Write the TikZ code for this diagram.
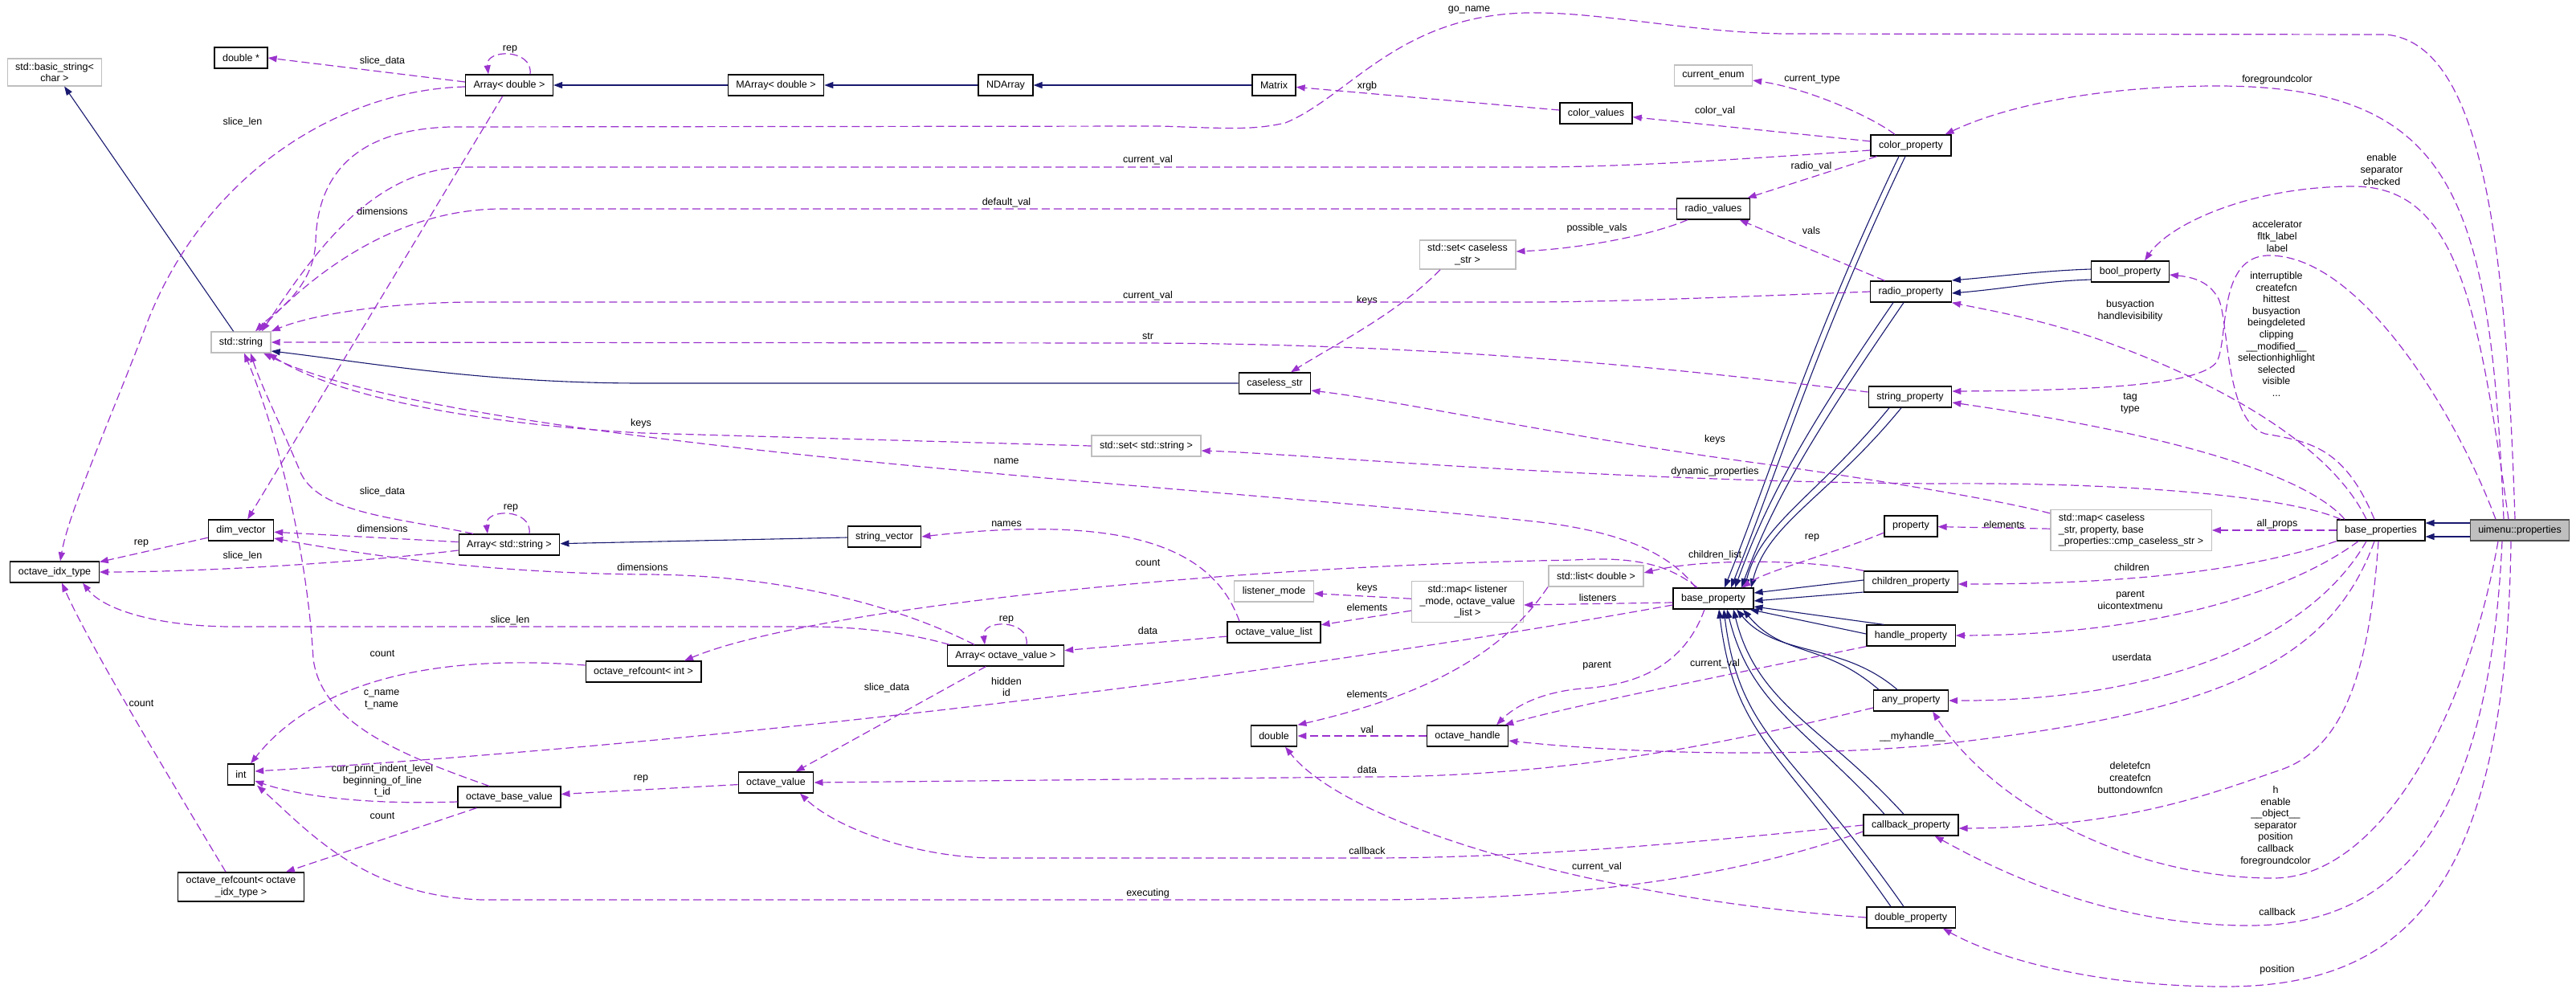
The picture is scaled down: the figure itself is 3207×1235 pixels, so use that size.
\documentclass[tikz,border=0pt]{standalone}
\usepackage{fontspec}
\setmainfont{Liberation Sans}
\usepackage{tikz}
\usetikzlibrary{arrows.meta}
\definecolor{edgeviolet}{HTML}{9A32CD}
\definecolor{inhnavy}{HTML}{191970}
\definecolor{extgray}{HTML}{BFBFBF}

\begin{document}
\begin{tikzpicture}[x=1pt, y=-1pt, font=\fontsize{12.5}{14.6}\selectfont,
  cls/.style={draw=black, line width=1.3pt, fill=white, minimum height=26pt, inner xsep=10pt, inner ysep=5pt},
  extcls/.style={cls, draw=extgray},
  curcls/.style={cls, draw=black!70, fill=extgray},
  mem/.style={draw=edgeviolet, line width=1.2pt, dash pattern=on 10pt off 5pt, -{Triangle[length=11pt,width=8pt]}},
  inh/.style={draw=inhnavy, line width=1.1pt, -{Triangle[length=11pt,width=8pt]}},
  lbl/.style={align=center, inner sep=0pt}]
  \useasboundingbox (0,0) rectangle (3207,1235);

  \node[extcls, align=center] (bstr) at (68,90) {std::basic\_string<\\char >};
  \node[cls] (dptr) at (300,72) {double *};
  \node[cls] (arrD) at (634,106) {Array< double >};
  \node[cls] (mad) at (966,106) {MArray< double >};
  \node[cls] (nda) at (1252,106) {NDArray};
  \node[cls] (mtx) at (1586,106) {Matrix};
  \node[extcls] (stds) at (300,426) {std::string};
  \node[extcls] (cenm) at (2133,94) {current\_enum};
  \node[cls] (cvals) at (1987,141) {color\_values};
  \node[cls] (colp) at (2379,181) {color\_property};
  \node[cls] (radv) at (2133,260) {radio\_values};
  \node[extcls, align=center] (setC) at (1827,317) {std::set< caseless\\\_str >};
  \node[cls] (radp) at (2379,363) {radio\_property};
  \node[cls] (boolp) at (2652,338) {bool\_property};
  \node[cls] (csl) at (1587,477) {caseless\_str};
  \node[cls] (strp) at (2378,494) {string\_property};
  \node[extcls] (setS) at (1427,555) {std::set< std::string >};
  \node[cls] (dimv) at (300,660) {dim\_vector};
  \node[cls] (arrS) at (634,678) {Array< std::string >};
  \node[cls] (oit) at (68,712) {octave\_idx\_type};
  \node[cls] (strv) at (1101,668) {string\_vector};
  \node[cls] (prop) at (2379,655) {property};
  \node[extcls, align=left] (mapC) at (2653,660) {std::map< caseless\\\_str, property, base\\\_properties::cmp\_caseless\_str >};
  \node[cls] (bprops) at (2964,660) {base\_properties};
  \node[curcls] (uim) at (3137,660) {uimenu::properties};
  \node[cls] (chdp) at (2379,724) {children\_property};
  \node[extcls] (listD) at (1987,717) {std::list< double >};
  \node[extcls] (lsn) at (1586,736) {listener\_mode};
  \node[extcls, align=center] (mapL) at (1827,749) {std::map< listener\\\_mode, octave\_value\\\_list >};
  \node[cls] (basep) at (2133,745) {base\_property};
  \node[cls] (hndp) at (2379,791) {handle\_property};
  \node[cls] (ovl) at (1586,787) {octave\_value\_list};
  \node[cls] (arrOV) at (1252,816) {Array< octave\_value >};
  \node[cls] (orcI) at (801,836) {octave\_refcount< int >};
  \node[cls] (anyp) at (2379,872) {any\_property};
  \node[cls] (dbl) at (1586,916) {double};
  \node[cls] (ohd) at (1827,916) {octave\_handle};
  \node[cls] (intn) at (300,964) {int};
  \node[cls] (ov) at (966,974) {octave\_value};
  \node[cls] (obv) at (634,992) {octave\_base\_value};
  \node[cls] (cbp) at (2379,1027) {callback\_property};
  \node[cls, align=center] (orcX) at (300,1104) {octave\_refcount< octave\\\_idx\_type >};
  \node[cls] (dblp) at (2379,1142) {double\_property};

  \node[lbl] (tA1) at (476,76) {slice\_data};
  \node[lbl] (tA2) at (635,61) {rep};
  \node[lbl] (tA3) at (302,152) {slice\_len};
  \node[lbl] (tA4) at (476,263) {dimensions};
  \node[lbl] (tGo) at (1829,12) {go\_name};
  \node[lbl] (tCv1) at (1429,199) {current\_val};
  \node[lbl] (tDv) at (1253,252) {default\_val};
  \node[lbl] (tCv2) at (1429,368) {current\_val};
  \node[lbl] (tStr) at (1429,419) {str};
  \node[lbl] (tCt) at (2256,99) {current\_type};
  \node[lbl] (tXrgb) at (1702,107) {xrgb};
  \node[lbl] (tCol) at (2135,138) {color\_val};
  \node[lbl] (tRv) at (2255,207) {radio\_val};
  \node[lbl] (tPv) at (1988,284) {possible\_vals};
  \node[lbl] (tVals) at (2255,287) {vals};
  \node[lbl] (tK1) at (1702,374) {keys};
  \node[lbl] (tFg) at (2835,99) {foregroundcolor};
  \node[lbl] (tEsc) at (2965,211) {enable\\separator\\checked};
  \node[lbl] (tAcc) at (2835,294) {accelerator\\fltk\_label\\label};
  \node[lbl] (tInt) at (2834,416) {interruptible\\createfcn\\hittest\\busyaction\\beingdeleted\\clipping\\\_\_modified\_\_\\selectionhighlight\\selected\\visible\\...};
  \node[lbl] (tBusy) at (2652,387) {busyaction\\handlevisibility};
  \node[lbl] (tK2) at (798,527) {keys};
  \node[lbl] (tSd2) at (476,612) {slice\_data};
  \node[lbl] (tRep2) at (636,632) {rep};
  \node[lbl] (tDim2) at (476,658) {dimensions};
  \node[lbl] (tRep3) at (176,676) {rep};
  \node[lbl] (tSl2) at (302,692) {slice\_len};
  \node[lbl] (tDim3) at (800,706) {dimensions};
  \node[lbl] (tSl3) at (635,772) {slice\_len};
  \node[lbl] (tCnt1) at (476,814) {count};
  \node[lbl] (tK3) at (2135,547) {keys};
  \node[lbl] (tDyn) at (2135,587) {dynamic\_properties};
  \node[lbl] (tName) at (1253,574) {name};
  \node[lbl] (tNames) at (1253,652) {names};
  \node[lbl] (tCnt2) at (1429,701) {count};
  \node[lbl] (tRep4) at (1253,771) {rep};
  \node[lbl] (tData1) at (1429,785) {data};
  \node[lbl] (tRep5) at (2256,669) {rep};
  \node[lbl] (tChl) at (2135,691) {children\_list};
  \node[lbl] (tK4) at (1702,732) {keys};
  \node[lbl] (tEl1) at (1702,756) {elements};
  \node[lbl] (tLis) at (1989,744) {listeners};
  \node[lbl] (tPar) at (1988,829) {parent};
  \node[lbl] (tCv3) at (2135,826) {current\_val};
  \node[lbl] (tTag) at (2652,502) {tag\\type};
  \node[lbl] (tEl2) at (2495,653) {elements};
  \node[lbl] (tAll) at (2835,652) {all\_props};
  \node[lbl] (tChd) at (2654,706) {children};
  \node[lbl] (tPuc) at (2652,747) {parent\\uicontextmenu};
  \node[lbl] (tUd) at (2654,818) {userdata};
  \node[lbl] (tCnt3) at (176,876) {count};
  \node[lbl] (tCn) at (475,871) {c\_name\\t\_name};
  \node[lbl] (tCpi) at (476,972) {curr\_print\_indent\_level\\beginning\_of\_line\\t\_id};
  \node[lbl] (tCnt4) at (476,1016) {count};
  \node[lbl] (tRep6) at (798,969) {rep};
  \node[lbl] (tSd3) at (1104,856) {slice\_data};
  \node[lbl] (tHid) at (1253,855) {hidden\\id};
  \node[lbl] (tExe) at (1429,1112) {executing};
  \node[lbl] (tEl3) at (1702,864) {elements};
  \node[lbl] (tVal) at (1702,908) {val};
  \node[lbl] (tData2) at (1702,958) {data};
  \node[lbl] (tMyh) at (2381,917) {\_\_myhandle\_\_};
  \node[lbl] (tCb1) at (1702,1059) {callback};
  \node[lbl] (tCv4) at (1988,1079) {current\_val};
  \node[lbl] (tDel) at (2652,968) {deletefcn\\createfcn\\buttondownfcn};
  \node[lbl] (tH) at (2833,1028) {h\\enable\\\_\_object\_\_\\separator\\position\\callback\\foregroundcolor};
  \node[lbl] (tCb2) at (2835,1135) {callback};
  \node[lbl] (tPos) at (2835,1207) {position};

  \draw[inh] (mad) -- (arrD);
  \draw[inh] (nda) -- (mad);
  \draw[inh] (mtx) -- (nda);
  \draw[inh] (stds) -- (bstr);
  \draw[inh] (csl.west) -- (800,477) .. controls (600,477) and (450,450) .. ([yshift=-11pt]stds.east);
  \draw[inh] (strv) -- (arrS);
  \foreach \a/\b in {-15pt/14pt, -7pt/22pt}
    \draw[inh] ([xshift=\a]colp.south) .. controls +(-110,230) and +(60,-150) .. ([xshift=\b]basep.north);
  \foreach \a/\b in {-22pt/27pt, -9pt/35pt}
    \draw[inh] ([xshift=\a]radp.south) .. controls +(-110,160) and +(40,-110) .. ([xshift=\b]basep.north);
  \foreach \a/\b in {-26pt/39pt, -11pt/47pt}
    \draw[inh] ([xshift=\a]strp.south) .. controls +(-90,110) and +(20,-80) .. ([xshift=\b]basep.north);
  \foreach \a/\b in {2pt/7pt, -13pt/-3pt}
    \draw[inh] ([yshift=\a]chdp.west) -- ([yshift=\b]basep.east);
  \draw[inh] ([xshift=22pt]hndp.north west) -- ([yshift=-10pt]basep.east);
  \draw[inh] ([yshift=2pt]hndp.west) -- ([xshift=-5pt]basep.south east);
  \foreach \a/\b in {-40pt/37pt, -17pt/29pt}
    \draw[inh] ([xshift=\a]anyp.north) .. controls +(-70,-60) and +(50,60) .. ([xshift=\b]basep.south);
  \foreach \a/\b in {-33pt/17pt, -9pt/25pt}
    \draw[inh] ([xshift=\a]cbp.north) .. controls +(-100,-110) and +(30,120) .. ([xshift=\b]basep.south);
  \foreach \a/\b in {-25pt/7pt, -9pt/13pt}
    \draw[inh] ([xshift=\a]dblp.north) .. controls +(-140,-200) and +(20,160) .. ([xshift=\b]basep.south);
  \foreach \a/\b in {3pt/14pt, -10pt/-2pt}
    \draw[inh] ([yshift=\a]boolp.west) .. controls +(-60,2) and +(70,-6) .. ([yshift=\b]radp.east);
  \foreach \a in {9pt, -8pt}
    \draw[inh] ([yshift=\a]uim.west) -- ([yshift=\a]bprops.east);

  \draw[mem] ([yshift=4pt]arrD.west) -- (dptr.east);
  \draw[mem] ([xshift=26pt]arrD.north) .. controls +(4,-32) and +(-4,-32) .. ([xshift=-26pt]arrD.north);
  \draw[mem] ([yshift=-2pt]arrD.west) .. controls (420,112) and (250,220) .. (180,410) .. controls (130,540) and (85,640) .. ([xshift=7pt]oit.north);
  \draw[mem] (arrD) -- (dimv);
  \draw[mem] ([xshift=-6pt]uim.north) .. controls (3120,300) and (3090,55) .. (2971,43) -- (2220,42) .. controls (2100,40) and (1990,14) .. (1900,16) .. controls (1740,20) and (1680,120) .. (1600,153) .. controls (1560,162) and (1530,160) .. (1446,157) -- (560,158) .. controls (430,162) and (395,230) .. (393,300) .. controls (391,360) and (340,390) .. ([xshift=18pt]stds.north);
  \draw[mem] ([yshift=-6pt]colp.west) .. controls (2100,203) and (2000,208) .. (1900,208) -- (580,208) .. controls (470,210) and (400,300) .. ([xshift=26pt]stds.north);
  \draw[mem] (radv.west) -- (620,260) .. controls (500,262) and (400,330) .. ([xshift=22pt]stds.north);
  \draw[mem] (radp.west) .. controls (2150,370) and (2000,376) .. (1900,376) -- (580,376) .. controls (460,378) and (380,395) .. (stds.north east);
  \draw[mem] ([yshift=6pt]strp.west) .. controls (2100,460) and (1800,428) .. (1420,427) -- (stds.east);
  \draw[mem] (setS.west) -- (800,539) .. controls (600,528) and (420,495) .. ([xshift=-4pt]stds.south east);
  \draw[mem] ([xshift=-22pt]basep.north) .. controls (2080,690) and (2020,660) .. (1900,648) .. controls (1500,605) and (560,555) .. ([xshift=28pt]stds.south);
  \draw[mem] ([xshift=-45pt]arrS.north) .. controls (500,645) and (400,640) .. (375,590) .. controls (350,530) and (325,480) .. ([xshift=12pt]stds.south);
  \draw[mem] ([xshift=-25pt]obv.north) .. controls (500,940) and (400,900) .. (390,820) .. controls (380,650) and (330,500) .. ([xshift=4pt]stds.south);
  \draw[mem] (dimv) -- (oit);
  \draw[mem] ([yshift=-7pt]arrS.west) .. controls (450,700) and (250,712) .. (oit.east);
  \draw[mem] ([xshift=-70pt]arrOV.north) .. controls (1120,785) and (1060,780) .. (1000,780) -- (290,780) .. controls (200,780) and (130,760) .. ([xshift=35pt]oit.south);
  \draw[mem] ([xshift=-19pt]orcX.north) .. controls (200,950) and (110,800) .. ([xshift=9pt]oit.south);
  \draw[mem] (arrS) -- (dimv);
  \draw[mem] ([xshift=-39pt]arrOV.north) .. controls (1100,745) and (950,715) .. (800,715) .. controls (600,713) and (450,690) .. ([yshift=-10pt]dimv.east);
  \draw[mem] ([xshift=25pt]arrS.north) .. controls +(4,-32) and +(-4,-32) .. ([xshift=-27pt]arrS.north);
  \draw[mem] ([xshift=26pt]arrOV.north) .. controls +(4,-32) and +(-4,-32) .. ([xshift=-26pt]arrOV.north);
  \draw[mem] ([xshift=-43pt]ovl.north) .. controls (1510,680) and (1400,640) .. (strv.east);
  \draw[mem] ([xshift=-20pt]basep.north) .. controls (2080,705) and (2040,692) .. (1960,697) .. controls (1500,705) and (1000,760) .. ([xshift=51pt]orcI.north);
  \draw[mem] (ovl) -- (arrOV);
  \draw[mem] ([yshift=8pt]orcI.west) .. controls (560,815) and (400,840) .. ([xshift=12pt]intn.north);
  \draw[mem] ([yshift=-6pt]obv.west) .. controls (450,1002) and (370,990) .. ([yshift=-8pt]intn.east);
  \draw[mem] ([yshift=-8pt]basep.west) .. controls (1600,840) and (900,925) .. ([yshift=4pt]intn.east);
  \draw[mem] ([yshift=-8pt]cbp.west) .. controls (2150,1095) and (1950,1120) .. (1700,1120) -- (600,1120) .. controls (450,1115) and (380,1030) .. ([xshift=20pt]intn.south);
  \draw[mem] (obv) -- (orcX);
  \draw[mem] (arrOV) -- (ov);
  \draw[mem] (ov) -- (obv);
  \draw[mem] ([yshift=-9pt]anyp.west) .. controls (2150,925) and (1950,967) .. (1700,967) -- (ov.east);
  \draw[mem] (cbp.west) .. controls (2100,1050) and (1900,1068) .. (1700,1068) -- (1240,1068) .. controls (1140,1068) and (1040,1030) .. ([xshift=30pt]ov.south);
  \draw[mem] (ohd) -- (dbl);
  \draw[mem] (dblp.west) .. controls (2000,1120) and (1680,1030) .. ([xshift=14pt]dbl.south);
  \draw[mem] ([xshift=-60pt]listD.south) .. controls (1880,800) and (1800,860) .. (dbl.north east);
  \draw[mem] ([xshift=-11pt]basep.south) .. controls (2100,820) and (2050,852) .. (1970,857) .. controls (1910,862) and (1880,885) .. ([xshift=36pt]ohd.north);
  \draw[mem] (hndp.south west) .. controls (2150,840) and (1950,880) .. ([xshift=-5pt]ohd.north east);
  \draw[mem] ([xshift=-8pt]bprops.south) .. controls (2900,830) and (2750,890) .. (2400,928) .. controls (2200,945) and (2000,935) .. ([yshift=-6pt]ohd.east);
  \draw[mem] (mapL) -- (lsn);
  \draw[mem] (mapL) -- (ovl);
  \draw[mem] ([yshift=-5pt]basep.west) -- ([yshift=-4pt]mapL.east);
  \draw[mem] (chdp.north west) .. controls (2250,696) and (2120,695) .. ([yshift=4pt]listD.east);
  \draw[mem] ([xshift=-34pt]setC.south) .. controls (1740,390) and (1660,430) .. ([xshift=20pt]csl.north);
  \draw[mem] ([yshift=-5pt]mapC.north west) .. controls (2480,620) and (2300,592) .. (2200,578) .. controls (1950,545) and (1750,500) .. ([yshift=-9pt]csl.east);
  \draw[mem] ([xshift=-32pt]radv.south) .. controls (2050,295) and (1960,310) .. ([yshift=4pt]setC.east);
  \draw[mem] (colp) -- (radv);
  \draw[mem] (radp) -- (radv);
  \draw[mem] (colp) -- (cvals);
  \draw[mem] ([xshift=-20pt]colp.north) .. controls (2330,145) and (2250,110) .. ([yshift=-6pt]cenm.east);
  \draw[mem] (cvals) -- (mtx);
  \draw[mem] ([xshift=-50pt]bprops.north) .. controls (2850,618) and (2650,600) .. (2410,602) .. controls (2100,600) and (1800,580) .. (1610,567) .. controls (1560,564) and (1530,562) .. ([yshift=-6pt]setS.east);
  \draw[mem] (mapC) -- (prop);
  \draw[mem] (bprops) -- (mapC);
  \draw[mem] ([yshift=-8pt]prop.west) .. controls (2280,690) and (2200,710) .. ([xshift=-15pt]basep.north east);
  \draw[mem] ([xshift=-45pt]bprops.north) .. controls (2870,590) and (2700,540) .. ([yshift=-7pt]strp.east);
  \draw[mem] ([xshift=-30pt]uim.north) .. controls (3060,520) and (2940,318) .. (2825,318) .. controls (2760,318) and (2775,420) .. (2760,450) .. controls (2740,480) and (2600,486) .. ([yshift=7pt]strp.east);
  \draw[mem] ([xshift=-8pt]bprops.north) .. controls (2920,560) and (2880,550) .. (2820,540) .. controls (2770,525) and (2775,400) .. (2762,372) .. controls (2750,350) and (2730,345) .. ([yshift=-4pt]boolp.east);
  \draw[mem] ([xshift=-14pt]uim.north) .. controls (3085,380) and (3060,232) .. (2930,232) .. controls (2800,232) and (2700,280) .. ([xshift=18pt]boolp.north);
  \draw[mem] ([xshift=-20pt]uim.north) .. controls (3100,250) and (3060,107) .. (2760,107) .. controls (2620,107) and (2500,130) .. ([xshift=-8pt]colp.north east);
  \draw[mem] ([xshift=-18pt]bprops.north) .. controls (2900,550) and (2750,470) .. (2606,420) .. controls (2530,395) and (2470,385) .. (radp.south east);
  \draw[mem] (bprops.south west) .. controls (2800,710) and (2650,727) .. ([yshift=-3pt]chdp.east);
  \draw[mem] ([xshift=-28pt]bprops.south) .. controls (2860,730) and (2700,790) .. (hndp.east);
  \draw[mem] ([xshift=-18pt]bprops.south) .. controls (2880,790) and (2700,873) .. (anyp.east);
  \draw[mem] ([xshift=-3pt]bprops.south) .. controls (2950,830) and (2920,930) .. (2840,958) .. controls (2760,985) and (2650,1030) .. ([yshift=-4pt]cbp.east);
  \draw[mem] ([xshift=-27pt]uim.south) .. controls (3070,900) and (2960,1093) .. (2830,1093) .. controls (2650,1093) and (2480,1000) .. ([xshift=-20pt]anyp.south east);
  \draw[mem] ([xshift=-22pt]uim.south) .. controls (3100,1000) and (3000,1152) .. (2800,1152) .. controls (2620,1152) and (2480,1080) .. ([xshift=-30pt]cbp.south east);
  \draw[mem] ([xshift=-11pt]uim.south) .. controls (3120,1100) and (3000,1228) .. (2770,1228) .. controls (2600,1228) and (2480,1190) .. ([xshift=-16pt]dblp.south east);
\end{tikzpicture}
\end{document}
